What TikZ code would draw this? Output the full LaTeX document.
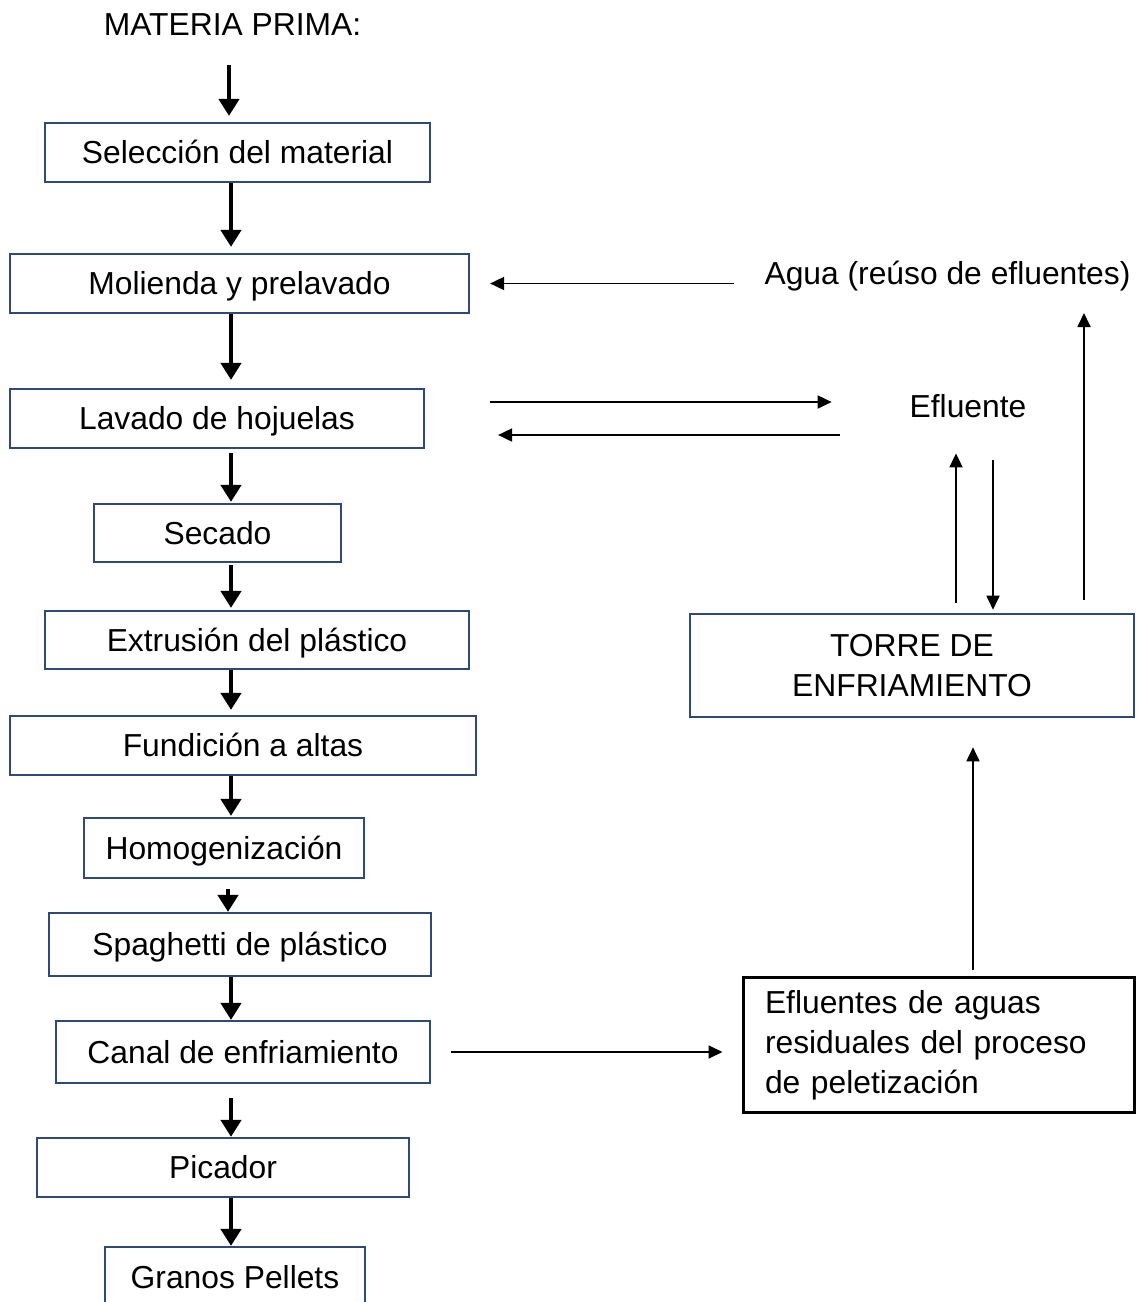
\documentclass[tikz,border=0pt]{standalone}
\usepackage{fontspec}
\setmainfont{Liberation Sans}
\usetikzlibrary{arrows.meta,calc}
\definecolor{boxblue}{RGB}{47,74,122}
\tikzset{
  txt/.style={inner sep=0pt, font=\fontsize{15.9}{20}\selectfont},
  pbox/.style={txt, draw=boxblue, line width=1.1pt, fill=white, align=center},
  onel/.style={pbox, text height=14pt, text depth=2.6pt},
  fat/.style={line width=2.3pt, -{Triangle[width=10pt,length=8.5pt]}},
  slim/.style={line width=0.9pt, -{Triangle[width=6.5pt,length=7pt]}}
}
\begin{document}
\begin{tikzpicture}[x=0.5pt,y=-0.5pt]
\useasboundingbox (0,0) rectangle (1137,1302);
\clip (0,0) rectangle (1137,1302);
% left column
\node[txt] (mp) at (232.5,25) {MATERIA PRIMA:};
\node[onel, minimum width=192.5pt, minimum height=29.5pt] (sel) at (237.5,152.5) {Selección del material};
\node[onel, minimum width=229.5pt, minimum height=29.5pt] (mol) at (239.5,283.5) {Molienda y prelavado};
\node[onel, minimum width=207pt, minimum height=29.5pt] (lav) at (217,418.5) {Lavado de hojuelas};
\node[onel, minimum width=123.5pt, minimum height=29pt] (sec) at (217.5,533) {Secado};
\node[onel, minimum width=212pt, minimum height=29pt] (ext) at (257,640) {Extrusión del plástico};
\node[onel, minimum width=233pt, minimum height=29.5pt] (fun) at (243,745.5) {Fundición a altas};
\node[onel, minimum width=140pt, minimum height=30pt] (hom) at (224,848) {Homogenización};
\node[onel, minimum width=191pt, minimum height=31.5pt] (spa) at (240,944.5) {Spaghetti de plástico};
\node[onel, minimum width=187pt, minimum height=31pt] (can) at (243,1052) {Canal de enfriamiento};
\node[onel, minimum width=186pt, minimum height=29.5pt] (pic) at (223,1167.5) {Picador};
\node[onel, minimum width=130pt, minimum height=30pt] (gra) at (235,1277) {Granos Pellets};
% right side
\node[txt, anchor=base] (agua) at (947.5,284.4) {Agua (reúso de efluentes)};
\node[txt, anchor=base] (eflu) at (968,417.4) {Efluente};
\node[pbox, line width=1.3pt, minimum width=222pt, minimum height=51.5pt] (torre) at (912,665.5) {TORRE DE\\ENFRIAMIENTO};
\node[txt, draw=black, line width=1.5pt, fill=white, align=left, minimum width=195.5pt, minimum height=67.5pt, inner xsep=11pt, text width=173.5pt] (efb) at (938.5,1045) {Efluentes de aguas\\residuales del proceso\\de peletización};
% main flow arrows
\coordinate (ax) at (231,0);
\coordinate (ax1) at (229,0);
\coordinate (ax2) at (228,0);
\draw[fat, shorten <=14.3pt, shorten >=3pt] (mp.south -| ax1) -- (sel.north -| ax1);
\draw[fat, shorten >=3pt] (sel.south -| ax) -- (mol.north -| ax);
\draw[fat, shorten >=4pt] (mol.south -| ax) -- (lav.north -| ax);
\draw[fat, shorten <=2pt, shorten >=0.5pt] (lav.south -| ax) -- (sec.north -| ax);
\draw[fat, shorten <=1pt, shorten >=1pt] (sec.south -| ax) -- (ext.north -| ax);
\draw[fat, shorten >=2.5pt] (ext.south -| ax) -- (fun.north -| ax);
\draw[fat, shorten >=0.5pt] (fun.south -| ax) -- (hom.north -| ax);
\draw[fat, shorten <=5pt] (hom.south -| ax2) -- (spa.north -| ax2);
\draw[fat] (spa.south -| ax) -- (can.north -| ax);
\draw[fat, shorten <=7pt] (can.south -| ax) -- (pic.north -| ax);
\draw[fat] (pic.south -| ax) -- (gra.north -| ax);
% water loop arrows
\draw[slim, shorten <=15pt, shorten >=10pt] (agua.base west |- mol.east) -- (mol.east);
\draw[slim, shorten <=32.5pt, shorten >=38.8pt] ($(lav.east)+(0,-16.5)$) -- ($(lav.east -| eflu.base west)+(0,-16.5)$);
\draw[slim, shorten <=34.8pt, shorten >=36.5pt] ($(lav.east -| eflu.base west)+(0,16.5)$) -- ($(lav.east)+(0,16.5)$);
\coordinate (t1) at ($(torre.north)+(44,0)$);
\coordinate (t2) at ($(torre.north)+(81,0)$);
\coordinate (t3) at ($(torre.north)+(172,0)$);
\coordinate (t4) at ($(efb.north)+(34.5,0)$);
\draw[slim, shorten <=5pt, shorten >=18pt] (t1) -- (t1 |- eflu.base);
\draw[slim, shorten <=21.5pt, shorten >=1.5pt] (t2 |- eflu.base) -- (t2);
\draw[slim, shorten <=6.5pt, shorten >=14.3pt] (t3) -- (t3 |- agua.base);
\draw[slim, shorten <=3pt, shorten >=14.5pt] (t4) -- (t4 |- torre.south);
\draw[slim, shorten <=10pt, shorten >=9.5pt] (can.east) -- (efb.west |- can.east);
\end{tikzpicture}
\end{document}
